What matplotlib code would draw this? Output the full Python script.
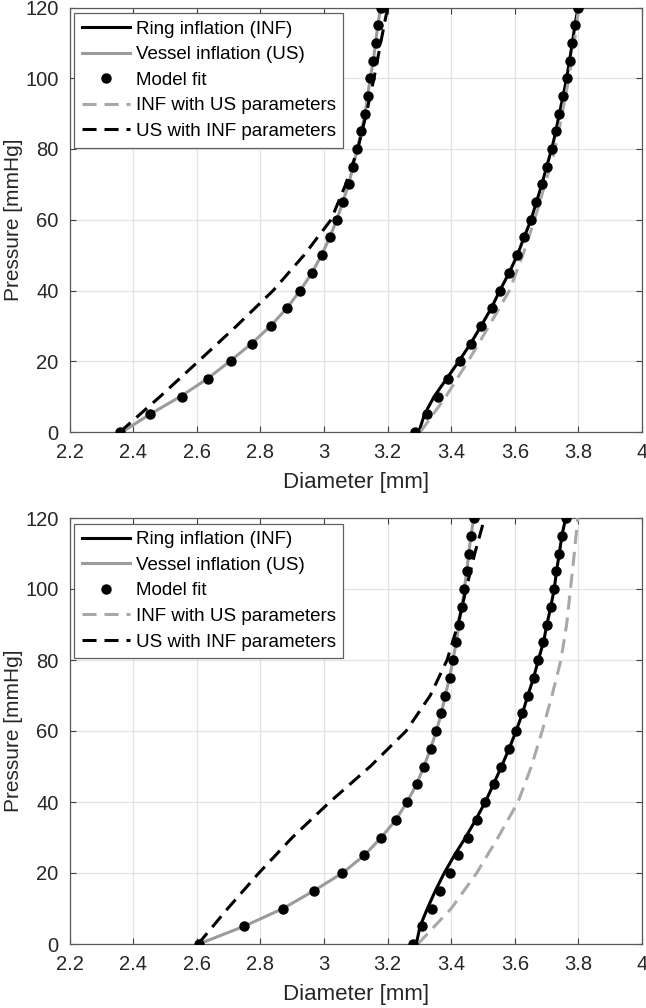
import matplotlib
matplotlib.use('Agg')
import matplotlib.pyplot as plt

plt.rcParams['font.family'] = ['Liberation Sans', 'DejaVu Sans']

# pressure levels [mmHg]
pressure = [0, 5, 10, 15, 20, 25, 30, 35, 40, 45, 50, 55, 60,
            65, 70, 75, 80, 85, 90, 95, 100, 105, 110, 115, 120]
pressure_d = [0, 10, 20, 30, 40, 50, 60, 70, 80, 90, 100, 110, 120]

# top panel
inf_line_top = [3.298, 3.316, 3.346, 3.385, 3.424, 3.461, 3.494, 3.526, 3.553, 3.582, 3.608, 3.629, 3.651,
                3.668, 3.685, 3.700, 3.716, 3.729, 3.740, 3.752, 3.763, 3.772, 3.781, 3.789, 3.799]
us_line_top = [2.365, 2.452, 2.548, 2.632, 2.704, 2.772, 2.832, 2.883, 2.925, 2.962, 2.992, 3.018, 3.040,
               3.059, 3.077, 3.091, 3.105, 3.117, 3.129, 3.137, 3.145, 3.155, 3.162, 3.169, 3.178]
inf_fit_top = [3.287, 3.324, 3.358, 3.391, 3.427, 3.462, 3.495, 3.527, 3.553, 3.582, 3.608, 3.629, 3.651,
               3.668, 3.685, 3.700, 3.716, 3.729, 3.740, 3.752, 3.763, 3.772, 3.781, 3.789, 3.799]
us_fit_top = [2.358, 2.454, 2.552, 2.635, 2.707, 2.772, 2.832, 2.883, 2.925, 2.962, 2.992, 3.018, 3.040,
              3.059, 3.077, 3.091, 3.105, 3.117, 3.129, 3.137, 3.145, 3.155, 3.162, 3.169, 3.178]
inf_us_top = [3.303, 3.383, 3.453, 3.519, 3.583, 3.625, 3.662, 3.695, 3.727, 3.749, 3.770, 3.787, 3.801]
us_inf_top = [2.358, 2.484, 2.605, 2.725, 2.840, 2.937, 3.022, 3.068, 3.106, 3.133, 3.157, 3.178, 3.200]

# bottom panel
inf_line_bot = [3.290, 3.302, 3.325, 3.350, 3.378, 3.410, 3.445, 3.477, 3.507, 3.533, 3.558, 3.582, 3.604,
                3.624, 3.641, 3.659, 3.674, 3.690, 3.701, 3.713, 3.724, 3.731, 3.740, 3.748, 3.760]
us_line_bot = [2.606, 2.749, 2.871, 2.968, 3.058, 3.127, 3.180, 3.226, 3.261, 3.291, 3.314, 3.335, 3.353,
               3.369, 3.381, 3.395, 3.405, 3.416, 3.424, 3.434, 3.441, 3.449, 3.455, 3.462, 3.471]
inf_fit_bot = [3.280, 3.308, 3.338, 3.366, 3.396, 3.422, 3.452, 3.480, 3.507, 3.533, 3.558, 3.582, 3.604,
               3.624, 3.641, 3.659, 3.674, 3.690, 3.701, 3.713, 3.724, 3.731, 3.740, 3.748, 3.760]
us_fit_bot = us_line_bot
inf_us_bot = [3.295, 3.400, 3.480, 3.547, 3.610, 3.652, 3.686, 3.717, 3.745, 3.763, 3.775, 3.787, 3.798]
us_inf_bot = [2.604, 2.697, 2.795, 2.900, 3.018, 3.145, 3.258, 3.334, 3.387, 3.421, 3.447, 3.474, 3.505]

xticks = [2.2, 2.4, 2.6, 2.8, 3, 3.2, 3.4, 3.6, 3.8, 4]
xticklabels = ['2.2', '2.4', '2.6', '2.8', '3', '3.2', '3.4', '3.6', '3.8', '4']
yticks = [0, 20, 40, 60, 80, 100, 120]

gray = '#9b9b9b'
gray_d = '#a8a8a8'
lw = 2.2
dash = (4.6, 2.6)

fig = plt.figure(figsize=(6.46, 10.08), dpi=100)
W, H = 646, 1008
ax_top = fig.add_axes([69.7 / W, 1 - 432 / H, (642 - 69.7) / W, 424.5 / H])
ax_bot = fig.add_axes([69.7 / W, 1 - 944 / H, (642 - 69.7) / W, 426 / H])

panels = [(ax_top, inf_line_top, us_line_top, inf_fit_top, us_fit_top, inf_us_top, us_inf_top),
          (ax_bot, inf_line_bot, us_line_bot, inf_fit_bot, us_fit_bot, inf_us_bot, us_inf_bot)]

for ax, inf_l, us_l, inf_f, us_f, inf_us, us_inf in panels:
    h1, = ax.plot(inf_l, pressure, color='black', lw=lw, zorder=3)
    h2, = ax.plot(us_l, pressure, color=gray, lw=lw, zorder=3)
    h4, = ax.plot(inf_us, pressure_d, color=gray_d, lw=lw, dashes=dash, zorder=3)
    h5, = ax.plot(us_inf, pressure_d, color='black', lw=lw, dashes=dash, zorder=3)
    h3, = ax.plot(inf_f, pressure, 'o', color='black', ms=6.5, zorder=4)
    ax.plot(us_f, pressure, 'o', color='black', ms=6.5, zorder=4)

    ax.set_xlim(2.2, 4)
    ax.set_ylim(0, 120)
    ax.set_xticks(xticks)
    ax.set_xticklabels(xticklabels)
    ax.set_yticks(yticks)
    ax.grid(True, color='#e3e3e3', lw=0.9)
    ax.set_axisbelow(True)
    ax.tick_params(direction='in', length=4, width=0.8, top=True, right=True,
                   labelsize=14.5, colors='#404040', labelcolor='#262626', pad=8)
    for s in ax.spines.values():
        s.set_color('#595959')
        s.set_linewidth(0.9)
    ax.set_xlabel('Diameter [mm]', fontsize=16, color='#262626')
    ax.set_ylabel('Pressure [mmHg]', fontsize=15, color='#262626')
    ax.xaxis.set_label_coords(0.5, -0.095)
    ax.yaxis.set_label_coords(-0.081, 0.5)

    leg = ax.legend([h1, h2, h3, h4, h5],
                    ['Ring inflation (INF)', 'Vessel inflation (US)', 'Model fit',
                     'INF with US parameters', 'US with INF parameters'],
                    loc='upper left', bbox_to_anchor=(4.3 / 572, 1 - 5.7 / 427),
                    borderaxespad=0, fontsize=13.5, handlelength=2.6, handletextpad=0.3,
                    labelspacing=0.45, borderpad=0.4, fancybox=False, framealpha=1,
                    edgecolor='#606060')
    leg.get_frame().set_linewidth(0.9)

plt.savefig('out.png', dpi=100)
